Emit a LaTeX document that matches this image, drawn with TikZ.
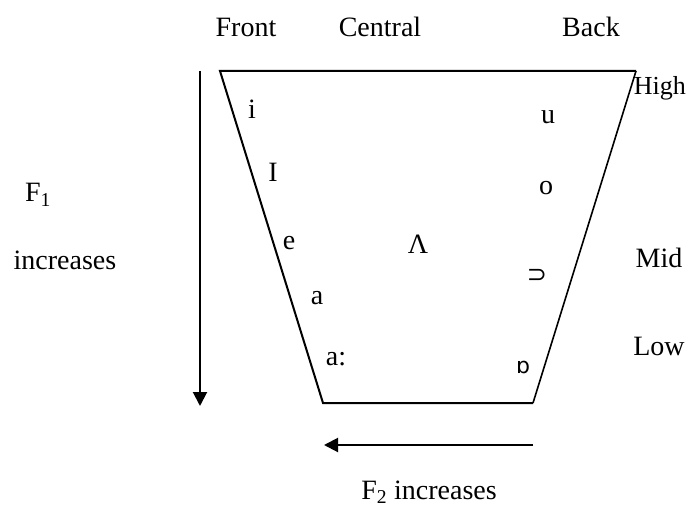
\documentclass[tikz,border=0pt]{standalone}
\usepackage{fontspec}
\setmainfont{Liberation Serif}
\newfontfamily\ipasans{DejaVu Sans}
\newfontfamily\symfont{DejaVu Sans}
\usetikzlibrary{arrows.meta}
\begin{document}
\begin{tikzpicture}[x=1pt,y=-1pt,
  lbl/.style={font=\fontsize{28}{32}\selectfont, inner sep=0pt, anchor=center},
  edge/.style={line width=2pt},
  arr/.style={line width=2pt, -{Triangle[length=14pt,width=14pt]}}]
\useasboundingbox (0,0) rectangle (687,508);
% trapezoid corners
\coordinate (TL) at (220,71);
\coordinate (TR) at (636,71);
\coordinate (BR) at (533,403);
\coordinate (BL) at (323,403);
\draw[edge, line join=miter] (BR) -- (BL) -- (TL) -- (TR);
\draw[line width=1.6pt] (TR) -- (BR);
% arrows
\coordinate (A1s) at (200,71);
\coordinate (A1e) at (200,406);
\draw[arr] (A1s) -- (A1e);
\coordinate (A2s) at (533,445);
\coordinate (A2e) at (324,445);
\draw[arr] (A2s) -- (A2e);
% column labels
\node[lbl] (front) at (246,27) {Front};
\node[lbl] (central) at (380,27) {Central};
\node[lbl] (back) at (591,27) {Back};
% row labels
\node[lbl, font=\fontsize{26}{30}\selectfont, anchor=east] (high) at (686,88) {High};
\node[lbl] (mid) at (659,258) {Mid};
\node[lbl] (low) at (659,346) {Low};
% axis labels
\node[lbl] (f1) at (38,195) {F\textsubscript{1}};
\node[lbl] (inc1) at (65,260) {increases};
\node[lbl] (f2) at (429,492) {F\textsubscript{2} increases};
% vowels
\node[lbl] (vi) at (252,109) {i};
\node[lbl] (vI) at (273,172) {I};
\node[lbl] (ve) at (289,243) {e};
\node[lbl] (va) at (317,298) {a};
\node[lbl] (vaa) at (336,359) {a:};
\node[lbl] (vL) at (418,244) {Λ};
\node[lbl] (vu) at (548,117) {u};
\node[lbl] (vo) at (546,188) {o};
\node[lbl] (vU) at (537,276) {\symfont\fontsize{24}{28}\selectfont ⊃};
\node[lbl] (vO) at (523,367) {\ipasans\fontsize{22}{26}\selectfont ɒ};
\end{tikzpicture}
\end{document}
